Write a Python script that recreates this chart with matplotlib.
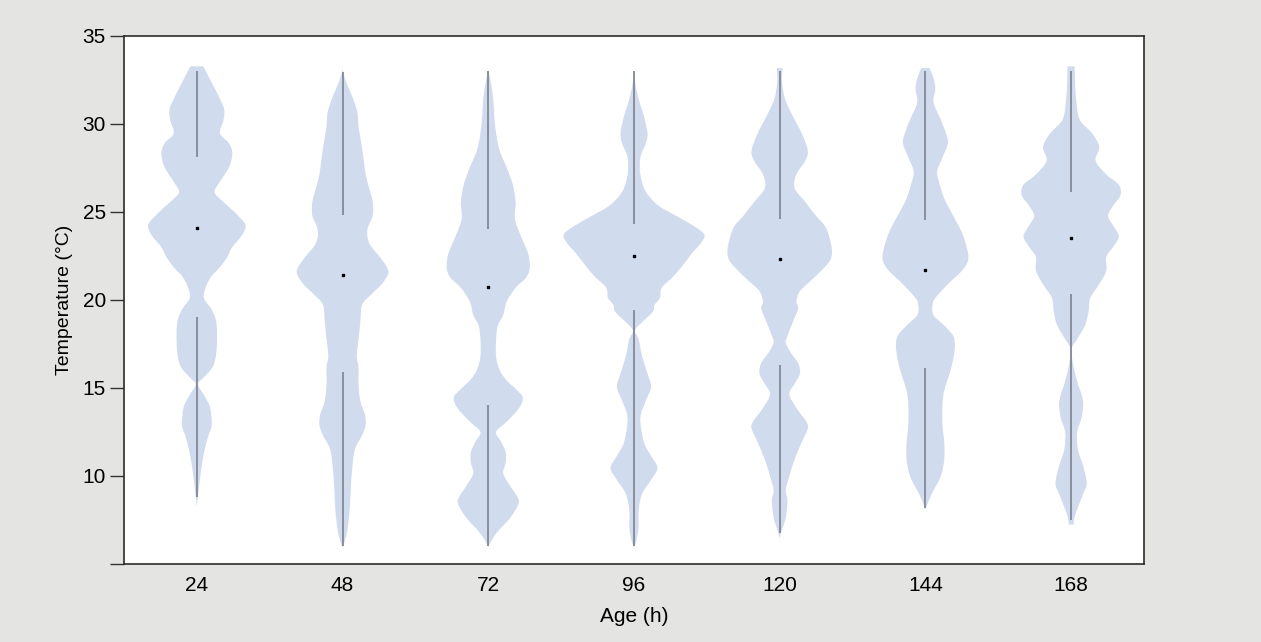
import numpy as np
import matplotlib.pyplot as plt
from matplotlib.path import Path
from matplotlib.patches import PathPatch

plt.rcParams['font.family'] = ['Liberation Sans Narrow', 'Liberation Sans', 'DejaVu Sans']

ages = [24, 48, 72, 96, 120, 144, 168]

# violin outlines: temperature levels and half width (px)
t_24 = [33.25, 32.4, 31.4, 30.8, 30.2, 29.45, 28.9, 28.3, 27.5, 26.7, 26.1, 25.55,
        25.0, 24.4, 24.1, 23.6, 23.0, 22.4, 21.85, 21.3, 20.7, 20.1, 19.5, 18.9,
        18.15, 17.0, 16.2, 15.6, 15.2, 14.6, 13.9, 12.9, 12.3, 11.3, 10.0, 8.8, 8.3]
w_24 = [18, 40, 65, 77, 75, 65, 90, 100, 90, 65, 50, 75,
        105, 133, 137, 125, 100, 85, 65, 40, 25, 20, 40, 53,
        57, 55, 45, 20, 3, 20, 37, 42, 33, 20, 10, 3, 0]

t_48 = [33.05, 32.37, 31.4, 30.62, 29.84, 28.86, 27.89, 27.11, 26.33, 25.55, 24.77,
        23.99, 23.21, 22.43, 21.85, 21.46, 20.88, 20.29, 19.71, 18.73, 17.76, 16.78,
        16.2, 15.23, 14.25, 13.47, 12.89, 12.3, 11.52, 10.36, 9.19, 8.02, 6.85, 6.07, 5.97]
w_48 = [0, 10, 30, 42, 45, 53, 60, 65, 75, 85, 85,
        70, 75, 105, 125, 128, 110, 80, 55, 50, 45, 40,
        45, 45, 50, 63, 65, 55, 35, 27, 23, 20, 13, 3, 0]

t_72 = [33.05, 32.37, 31.4, 30.42, 29.45, 28.47, 27.5, 26.53, 25.55, 24.58, 23.6,
        22.63, 21.85, 21.27, 20.68, 19.9, 19.12, 18.54, 17.76, 16.78, 16.01, 15.42,
        14.84, 14.45, 13.86, 13.08, 12.5, 11.91, 11.33, 10.75, 10.16, 9.58, 8.8, 8.41,
        7.63, 6.85, 6.26, 5.97]
w_72 = [0, 7, 14, 17, 22, 32, 52, 69, 77, 75, 92,
        112, 117, 107, 77, 52, 42, 27, 22, 22, 32, 52,
        82, 97, 87, 52, 22, 37, 49, 49, 42, 57, 82, 85,
        62, 27, 7, 0]

t_96 = [33.0, 32.37, 31.4, 30.42, 29.45, 28.86, 28.08, 27.11, 26.14, 25.36, 24.77,
        24.19, 23.7, 23.21, 22.63, 21.85, 21.27, 20.68, 20.1, 19.71, 19.32, 18.73,
        18.25, 17.76, 16.78, 15.81, 15.03, 14.25, 13.28, 11.91, 11.14, 10.45, 9.77,
        8.99, 8.02, 7.04, 6.26, 5.97]
w_96 = [0, 3, 13, 28, 38, 33, 18, 18, 33, 68, 118,
        168, 198, 188, 163, 133, 108, 78, 73, 58, 53, 23,
        3, 13, 23, 38, 48, 33, 18, 28, 48, 66, 48,
        23, 13, 13, 6, 0]

t_120 = [33.15, 32.37, 31.4, 30.42, 29.45, 28.47, 27.89, 27.11, 26.33, 25.55, 24.77,
         24.19, 23.6, 22.82, 22.24, 21.65, 21.07, 20.49, 19.9, 19.51, 18.73, 17.95,
         17.56, 16.98, 16.4, 15.81, 15.23, 14.64, 13.86, 13.08, 12.69, 11.91, 10.94,
         9.97, 9.19, 8.6, 7.63, 6.85, 6.46]
w_120 = [8, 7, 15, 37, 62, 79, 72, 47, 42, 72, 102,
         127, 139, 147, 142, 117, 87, 57, 47, 52, 37, 22,
         17, 32, 52, 57, 42, 27, 47, 75, 79, 62, 42,
         27, 17, 22, 17, 5, 0]

t_144 = [33.15, 32.56, 31.98, 31.2, 30.23, 29.45, 28.86, 28.08, 27.3, 26.72, 25.75,
         24.77, 23.8, 22.82, 22.24, 21.65, 20.88, 20.1, 19.71, 19.12, 18.54, 17.95,
         17.37, 16.59, 15.81, 14.84, 14.06, 12.89, 11.91, 10.94, 9.97, 8.99, 8.41, 8.12]
w_144 = [12, 23, 28, 23, 43, 58, 63, 48, 33, 38, 53,
         78, 103, 118, 120, 103, 63, 28, 20, 23, 53, 78,
         83, 78, 68, 53, 48, 48, 53, 53, 43, 18, 6, 0]

t_168 = [33.25, 32.37, 31.4, 30.23, 29.45, 28.67, 27.89, 27.11, 26.53, 25.94, 25.36,
         24.77, 24.19, 23.6, 23.02, 22.43, 21.65, 20.88, 20.1, 19.32, 18.54, 17.76,
         17.17, 16.2, 15.23, 14.64, 14.06, 13.28, 12.5, 11.52, 10.55, 9.58, 8.99,
         8.21, 7.63, 7.24]
w_168 = [10, 11, 14, 24, 59, 79, 69, 99, 134, 139, 119,
         104, 119, 134, 119, 99, 99, 79, 54, 49, 39, 17,
         1, 7, 19, 29, 34, 29, 17, 19, 34, 44, 34,
         19, 9, 7]

temps = [t_24, t_48, t_72, t_96, t_120, t_144, t_168]
widths = [w_24, w_48, w_72, w_96, w_120, w_144, w_168]

# summary stats (whiskers drawn outside the quartiles)
medians = [24.1, 21.4, 20.7, 22.5, 22.3, 21.7, 23.5]
t_min = [8.8, 6.0, 6.0, 6.0, 6.75, 8.2, 7.5]
q1 = [19.0, 15.9, 14.0, 19.4, 16.3, 16.1, 20.3]
q3 = [28.1, 24.8, 24.0, 24.3, 24.6, 24.5, 26.1]
t_max = [33.0, 32.95, 33.0, 33.0, 33.0, 33.0, 33.0]

scale = 1.0 / 410          # px of half width -> category units


def smooth_side(x, y):
    """Bezier (Catmull-Rom) segments passing through the outline points."""
    p = np.column_stack([x, y])
    e = np.vstack([p[0], p, p[-1]])
    verts = []
    for k in range(len(p) - 1):
        p0, p1, p2, p3 = e[k], e[k + 1], e[k + 2], e[k + 3]
        verts += [p1 + (p2 - p0) / 6, p2 - (p3 - p1) / 6, p2]
    return p[0], verts


def violin_patch(pos, t, w):
    t = np.array(t)
    w = np.array(w) * scale
    start, right = smooth_side(pos + w, t)
    lstart, left = smooth_side((pos - w)[::-1], t[::-1])
    verts = [start] + right + [lstart] + left + [start]
    codes = ([Path.MOVETO] + [Path.CURVE4] * len(right) + [Path.LINETO]
             + [Path.CURVE4] * len(left) + [Path.CLOSEPOLY])
    return PathPatch(Path(verts, codes), facecolor='#d1dbee', lw=0, zorder=2)


fig = plt.figure(figsize=(12.61, 6.42), dpi=100, facecolor='#e4e5e3')
ax = fig.add_axes([0.0983, 0.1215, 0.8089, 0.8232])
ax.set_facecolor('white')

for i in range(len(ages)):
    ax.add_patch(violin_patch(i, temps[i], widths[i]))
    ax.vlines(i, q3[i], t_max[i], color='#848897', lw=1.3, zorder=3)
    ax.vlines(i, t_min[i], q1[i], color='#848897', lw=1.3, zorder=3)
    ax.plot(i, medians[i], 's', color='black', ms=2, zorder=4)

ax.set_xlim(-0.5, 6.5)
ax.set_ylim(5, 35)
ax.set_xticks(range(len(ages)))
ax.set_xticklabels([str(a) for a in ages])
ax.set_yticks([5, 10, 15, 20, 25, 30, 35])
ax.set_yticklabels(['', '10', '15', '20', '25', '30', '35'])
ax.tick_params(axis='x', length=0, pad=9, labelsize=15)
ax.tick_params(axis='y', length=10, width=1, pad=3, labelsize=15, color='#333333')
for s in ax.spines.values():
    s.set_color('#2b2b2b')
    s.set_linewidth(1.2)

ax.set_xlabel('Age (h)', fontsize=15, labelpad=8)
ax.set_ylabel('Temperature (°C)', fontsize=14, labelpad=7)

fig.savefig('out.png', dpi=100, facecolor=fig.get_facecolor())
